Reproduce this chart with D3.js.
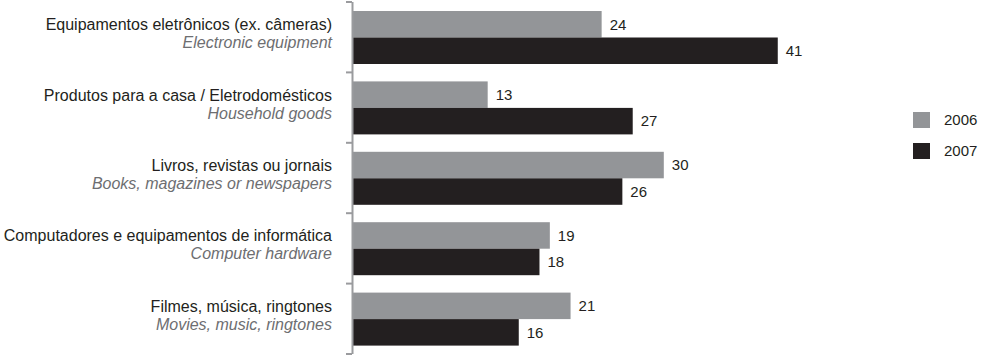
<!DOCTYPE html>
<html>
<head>
<meta charset="utf-8">
<script src="https://cdn.jsdelivr.net/npm/d3@7"></script>
<style>
  body { margin: 0; background: #fff; }
  text { font-family: "Liberation Sans", Arial, sans-serif; }
</style>
</head>
<body>
<div class="chart"></div>
<script>
const width = 981;
const height = 357;

// data
const categories = [
    "Equipamentos eletrônicos (ex. câmeras)",
    "Produtos para a casa / Eletrodomésticos",
    "Livros, revistas ou jornais",
    "Computadores e equipamentos de informática",
    "Filmes, música, ringtones"
];
const categoriesEn = [
    "Electronic equipment",
    "Household goods",
    "Books, magazines or newspapers",
    "Computer hardware",
    "Movies, music, ringtones"
];
const years = ["2006", "2007"];
const values2006 = [24, 13, 30, 19, 21];
const values2007 = [41, 27, 26, 18, 16];

const colors = {"2006": "#939598", "2007": "#231f20"};

const rows = categories.map((c, i) => ({
    name: c,
    en: categoriesEn[i],
    values: [
        {year: "2006", value: values2006[i]},
        {year: "2007", value: values2007[i]}
    ]
}));

const svg = d3.select(".chart")
    .append("svg")
        .attr("width", width)
        .attr("height", height);

const x = d3.scaleLinear()
    .domain([0, 50])
    .range([353, 353 + 518]);

const y = d3.scaleBand()
    .domain(categories)
    .range([2, 354]);

const yInner = d3.scaleBand()
    .domain(years)
    .range([9, 62]);

// bars
const group = svg.append("g")
    .selectAll("g")
    .data(rows)
    .join("g")
        .attr("transform", d => "translate(0," + y(d.name) + ")");

group.selectAll("rect")
    .data(d => d.values)
    .join("rect")
        .attr("x", x(0))
        .attr("y", d => yInner(d.year))
        .attr("width", d => x(d.value) - x(0))
        .attr("height", yInner.bandwidth())
        .attr("fill", d => colors[d.year]);

group.selectAll("text.val")
    .data(d => d.values)
    .join("text")
        .attr("class", "val")
        .attr("x", d => x(d.value) + 8)
        .attr("y", d => yInner(d.year) + yInner.bandwidth() / 2)
        .attr("dy", "0.35em")
        .attr("font-size", 15)
        .attr("fill", "#231f20")
        .text(d => d.value);

// category labels
const lab = svg.append("g")
    .attr("text-anchor", "end")
    .selectAll("g")
    .data(rows)
    .join("g")
        .attr("transform", d => "translate(332," + (y(d.name) + y.bandwidth() / 2) + ")");

lab.append("text")
    .attr("y", -7)
    .attr("font-size", 16)
    .attr("fill", "#231f20")
    .text(d => d.name);

lab.append("text")
    .attr("y", 11)
    .attr("font-size", 16)
    .attr("font-style", "italic")
    .attr("fill", "#6d6e71")
    .text(d => d.en);

// axis line with ticks at the band edges
const edges = categories.map(c => y(c)).concat([y.range()[1]]);
const axis = svg.append("g");
axis.append("line")
    .attr("x1", 352.5).attr("x2", 352.5)
    .attr("y1", edges[0]).attr("y2", edges[edges.length - 1])
    .attr("stroke", "#9a9b9e")
    .attr("stroke-width", 2);
axis.selectAll("line.tick")
    .data(edges)
    .join("line")
        .attr("class", "tick")
        .attr("x1", 346).attr("x2", 352)
        .attr("y1", d => d).attr("y2", d => d)
        .attr("stroke", "#9a9b9e")
        .attr("stroke-width", 2);

// legend
const legend = svg.append("g")
    .selectAll("g")
    .data(years)
    .join("g")
        .attr("transform", (d, i) => "translate(913," + (112 + i * 31) + ")");

legend.append("rect")
    .attr("width", 17)
    .attr("height", 16)
    .attr("fill", d => colors[d]);

legend.append("text")
    .attr("x", 31)
    .attr("y", 8)
    .attr("dy", "0.35em")
    .attr("font-size", 15)
    .attr("fill", "#231f20")
    .text(d => d);
</script>
</body>
</html>
